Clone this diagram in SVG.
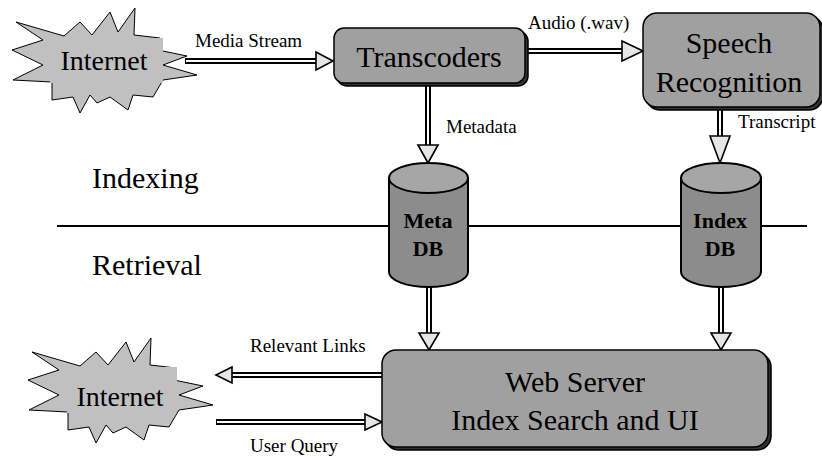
<svg xmlns="http://www.w3.org/2000/svg" width="822" height="457" viewBox="0 0 822 457" font-family="'Liberation Serif', 'Times New Roman', serif">
<style>
text { font-family: "Liberation Serif", "Times New Roman", serif; fill: #000; }
.lbl { font-size: 19px; }
.big { font-size: 30px; text-anchor: middle; font-family: "Liberation Serif", serif; }
.sec { font-size: 30px; font-family: "Liberation Serif", serif; }
.db { font-size: 22px; font-weight: bold; text-anchor: middle; }
.so { fill: none; stroke: #000; stroke-width: 6; }
.si { fill: none; stroke: #fff; stroke-width: 2; }
.head { fill: #e6e6e6; stroke: #000; stroke-width: 1.6; stroke-linejoin: miter; }
.box { fill: #a0a0a0; stroke: #000; stroke-width: 1.5; }
.shadow { fill: #333; stroke: #000; stroke-width: 1.5; }
.star { fill: #c0c0c0; stroke: #000; stroke-width: 1; stroke-linejoin: miter; }
.cylb { fill: #8c8c8c; stroke: #000; stroke-width: 2; }
.cylt { fill: #a6a6a6; stroke: #000; stroke-width: 2; }
</style>
<defs>
<polygon id="starshape" points="16,22 64,36 80,22 92,35 110,12 118,32 135,8 134,35 160,38 158,50 187,56 163,65 197,75 163,80 153,97 133,95 128,110 110,97 97,103 90,95 80,113 73,97 52,100 52,82 13,80 43,65 12,50 43,40"/>
</defs>
<rect width="822" height="457" fill="#fff"/>

<g id="sections">
<line x1="57" y1="226" x2="807" y2="226" stroke="#000" stroke-width="2"/>
<text class="sec" x="92" y="188" font-family="Liberation Serif, serif">Indexing</text>
<text class="sec" x="92" y="275" font-family="Liberation Serif, serif">Retrieval</text>
</g>

<g id="connectors">
<g id="c-media">
<path class="so" d="M185,61 H318"/><path class="si" d="M186,61 H318"/>
<polygon class="head" points="316,52 333,61 316,70"/>
<text class="lbl" x="195" y="47">Media Stream</text>
</g>
<g id="c-audio">
<path class="so" d="M525,51 H624"/><path class="si" d="M525,51 H624"/>
<polygon class="head" points="622,41 643,51 622,61"/>
<text class="lbl" x="528" y="29">Audio (.wav)</text>
</g>
<g id="c-metadata">
<path class="so" d="M428,83 V147"/><path class="si" d="M428,83 V147"/>
<polygon class="head" points="418,145 428,163 438,145"/>
<text class="lbl" x="446" y="133">Metadata</text>
</g>
<g id="c-transcript">
<path class="so" d="M720,107 V137"/><path class="si" d="M720,107 V137"/>
<polygon class="head" points="710,136 720,163 730,136"/>
<text class="lbl" x="738" y="128">Transcript</text>
</g>
<g id="c-meta-web">
<path class="so" d="M429,287 V335"/><path class="si" d="M429,287 V335"/>
<polygon class="head" points="419,333 429,350 439,333"/>
</g>
<g id="c-index-web">
<path class="so" d="M721,287 V335"/><path class="si" d="M721,287 V335"/>
<polygon class="head" points="711,333 721,350 731,333"/>
</g>
<g id="c-links">
<path class="so" d="M382,375 H230"/><path class="si" d="M382,375 H230"/>
<polygon class="head" points="232,367 216,375 232,383"/>
<text class="lbl" x="250" y="352">Relevant Links</text>
</g>
<g id="c-query">
<path class="so" d="M216,422 H367"/><path class="si" d="M217,422 H367"/>
<polygon class="head" points="365,414 382,422 365,430"/>
<text class="lbl" x="250" y="452">User Query</text>
</g>
</g>

<g id="internet-top">
<use href="#starshape" class="star"/>
<rect x="50" y="38" width="113" height="45" fill="#c0c0c0"/>
<text x="104" y="70" font-size="28" text-anchor="middle" font-family="Liberation Serif, serif">Internet</text>
</g>

<g id="transcoders">
<rect class="shadow" x="337" y="31" width="191" height="55" rx="10"/>
<rect class="box" x="334" y="28" width="191" height="55" rx="10"/>
<text class="big" x="429" y="67" font-family="Liberation Serif, serif">Transcoders</text>
</g>

<g id="speech">
<rect class="shadow" x="646" y="16" width="177" height="94" rx="14"/>
<rect class="box" x="643" y="13" width="177" height="94" rx="14"/>
<text class="big" x="729" y="53" font-size="31" font-family="Liberation Serif, serif">Speech</text>
<text class="big" x="729" y="92" font-size="31" font-family="Liberation Serif, serif">Recognition</text>
</g>

<g id="metadb">
<path class="cylb" d="M389,178 V272 A39.5,15 0 0 0 468,272 V178 Z"/>
<ellipse class="cylt" cx="428.5" cy="178" rx="39.5" ry="15"/>
<text class="db" x="428" y="228">Meta</text>
<text class="db" x="428" y="256">DB</text>
</g>

<g id="indexdb">
<path class="cylb" d="M681,178 V272 A40,15 0 0 0 761,272 V178 Z"/>
<ellipse class="cylt" cx="721" cy="178" rx="40" ry="15"/>
<text class="db" x="720" y="228">Index</text>
<text class="db" x="720" y="256">DB</text>
</g>

<g id="internet-bottom">
<use href="#starshape" class="star" transform="translate(16,330)"/>
<rect x="67" y="367" width="110" height="46" fill="#c0c0c0"/>
<text x="120" y="406" font-size="28" text-anchor="middle" font-family="Liberation Serif, serif">Internet</text>
</g>

<g id="webserver">
<rect class="shadow" x="385" y="353" width="386" height="97" rx="14"/>
<rect class="box" x="382" y="350" width="386" height="97" rx="14"/>
<text class="big" x="575" y="392" font-size="31" font-family="Liberation Serif, serif">Web Server</text>
<text class="big" x="575" y="430" font-size="31" font-family="Liberation Serif, serif">Index Search and UI</text>
</g>
</svg>
